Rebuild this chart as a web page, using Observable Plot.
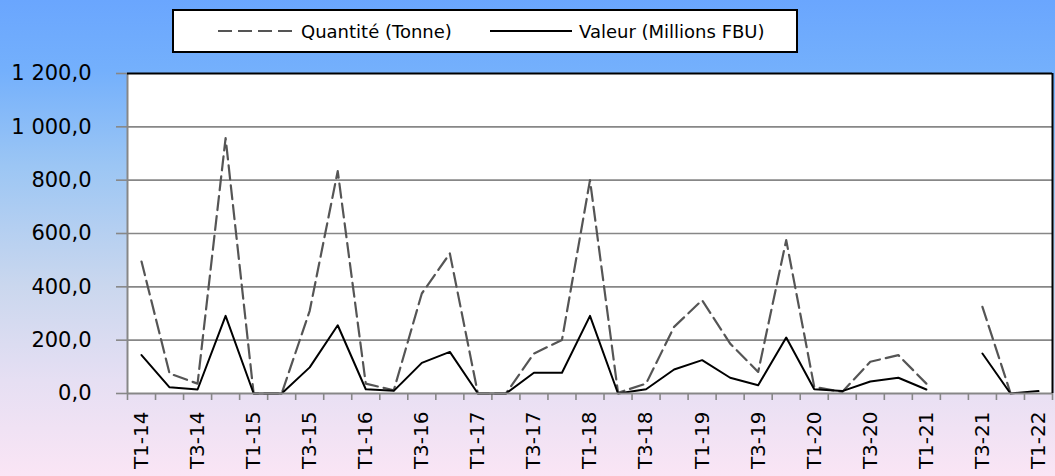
<!DOCTYPE html>
<html>
<head>
<meta charset="utf-8">
<script src="https://cdn.jsdelivr.net/npm/d3@7"></script>
<script src="https://cdn.jsdelivr.net/npm/@observablehq/plot@0.6"></script>
<style>
  html, body { margin: 0; padding: 0; }
  #wrap {
    position: relative; width: 1055px; height: 476px; overflow: hidden;
    background: linear-gradient(to bottom, #6aa6fe 0%, #74b0fc 15%, #9cc6f4 35%, #cad7ee 60%, #e6dff3 80%, #fae5f5 100%);
    font-family: "DejaVu Sans", sans-serif;
  }
  #legend {
    position: absolute; left: 172px; top: 9px; width: 622px; height: 40px;
    background: white; border: 2px solid black;
    font-size: 18px; color: black;
  }
  #legend .item { position: absolute; top: 0; height: 40px; display: flex; align-items: center; }
  #legend svg { display: block; margin-right: 7px; }
  #chart { position: absolute; left: 0; top: 0; }
</style>
</head>
<body>
<div id="wrap">
  <div id="chart"></div>
  <div id="legend"></div>
</div>
<script>
// Quarters (categories)
const quarters = [
  "T1-14","T2-14","T3-14","T4-14",
  "T1-15","T2-15","T3-15","T4-15",
  "T1-16","T2-16","T3-16","T4-16",
  "T1-17","T2-17","T3-17","T4-17",
  "T1-18","T2-18","T3-18","T4-18",
  "T1-19","T2-19","T3-19","T4-19",
  "T1-20","T2-20","T3-20","T4-20",
  "T1-21","T2-21","T3-21","T4-21",
  "T1-22"
];
// Series
const quantite = [495, 75, 37, 958, 0, 0, 310, 834, 37, 12, 375, 525, 0, 0, 150, 201, 800, 3, 37, 250, 350, 187, 81, 575, 25, 6, 119, 144, 37, null, 325, 2, null];
const valeur   = [144, 23, 15, 291, 0, 0, 98, 256, 16, 10, 115, 156, 0, 0, 78, 78, 291, 0, 16, 90, 125, 59, 31, 210, 16, 9, 45, 59, 15, null, 150, 0, 9];
// Axis ticks
const yTicks = [0, 200, 400, 600, 800, 1000, 1200];
const seriesNames = ["Quantité (Tonne)", "Valeur (Millions FBU)"];

const data = quarters.map((q, i) => ({i, q, quantite: quantite[i], valeur: valeur[i]}));
const labelIdx = quarters.map((q, i) => i).filter(i => i % 2 === 0);
const boundaries = d3.range(-0.5, quarters.length, 1);

const fmt = v => {
  const s = v.toFixed(1).replace(".", ",");
  const [int, dec] = s.split(",");
  return int.replace(/\B(?=(\d{3})+(?!\d))/g, " ") + "," + dec;
};

const grid = "#878787";
const dashColor = "#555555";
const dash = "14,6";

const plot = Plot.plot({
  width: 1055,
  height: 476,
  marginLeft: 127,
  marginRight: 3,
  marginTop: 73,
  marginBottom: 83,
  style: {background: "transparent", fontFamily: "DejaVu Sans, sans-serif", fontSize: "21px", color: "black", overflow: "visible"},
  x: {type: "linear", domain: [-0.5, quarters.length - 0.5], axis: null},
  y: {domain: [0, 1200], axis: null},
  marks: [
    Plot.frame({fill: "white", stroke: null}),
    Plot.ruleY(yTicks.filter(d => d > 0 && d < 1200), {stroke: grid, strokeWidth: 1.6}),
    Plot.axisY({ticks: yTicks, tickSize: 11, tickPadding: 25, tickFormat: fmt, stroke: grid, strokeWidth: 1.6, fill: "black", label: null}),
    Plot.axisX({ticks: boundaries, tickSize: 7, stroke: grid, strokeWidth: 1.6, fill: "none", label: null}),
    Plot.axisX({ticks: labelIdx, tickSize: 0, tickPadding: 18, tickRotate: -90, tickFormat: i => quarters[i], fill: "black", fontSize: 20, label: null}),
    Plot.line(data, {x: "i", y: "quantite", stroke: dashColor, strokeWidth: 2.2, strokeDasharray: dash}),
    Plot.line(data, {x: "i", y: "valeur", stroke: "black", strokeWidth: 2}),
    Plot.ruleX([-0.5], {stroke: grid, strokeWidth: 2}),
    Plot.ruleY([0], {stroke: grid, strokeWidth: 2}),
    Plot.ruleY([1200], {stroke: "black", strokeWidth: 2}),
    Plot.ruleX([quarters.length - 0.5], {stroke: "black", strokeWidth: 2})
  ]
});
document.getElementById("chart").appendChild(plot);

// Legend
const legend = document.getElementById("legend");
const items = [
  {name: seriesNames[0], left: 44, stroke: dashColor, dash: dash, w: 76},
  {name: seriesNames[1], left: 316, stroke: "black", dash: null, w: 82}
];
for (const it of items) {
  const div = document.createElement("div");
  div.className = "item";
  div.style.left = it.left + "px";
  div.innerHTML = `<svg width="${it.w}" height="10"><line x1="0" y1="5" x2="${it.w}" y2="5" stroke="${it.stroke}" stroke-width="2" ${it.dash ? `stroke-dasharray="${it.dash}"` : ""}/></svg><span>${it.name}</span>`;
  legend.appendChild(div);
}
</script>
</body>
</html>
